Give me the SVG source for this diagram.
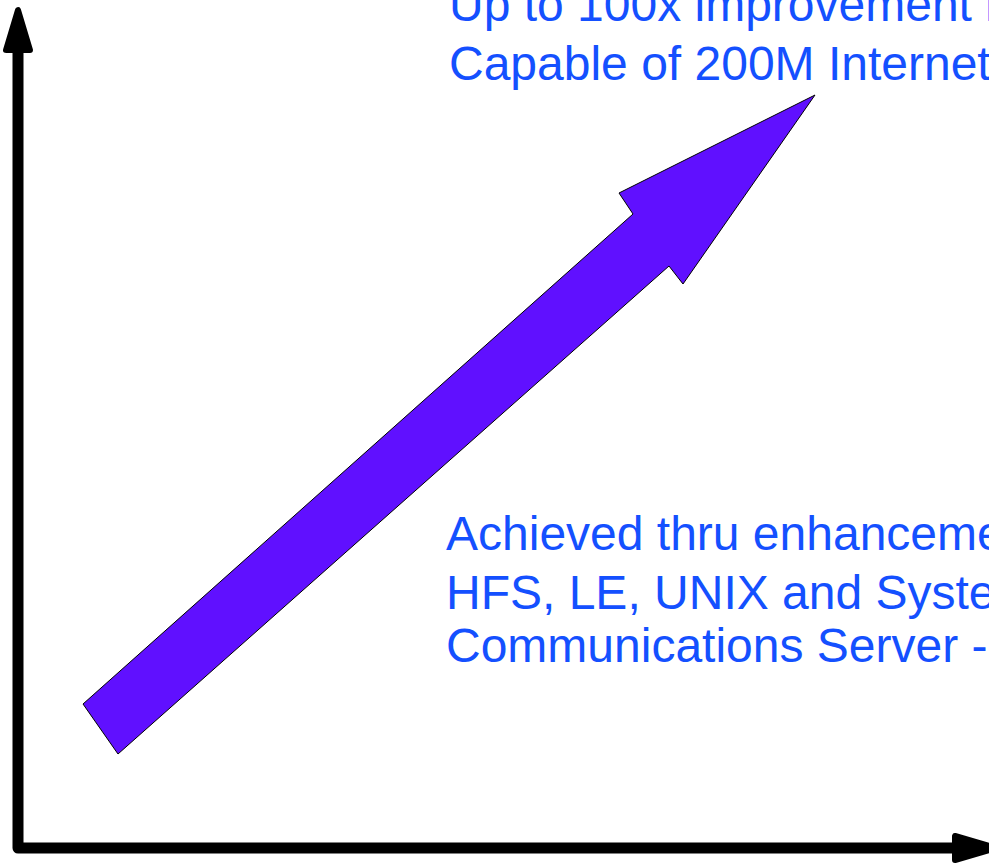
<svg xmlns="http://www.w3.org/2000/svg" width="989" height="863" viewBox="0 0 989 863">
<style>
.axis{stroke:#000;stroke-width:11;fill:none;stroke-linecap:round;stroke-linejoin:round}
.head{fill:#000;stroke:#000;stroke-width:6;stroke-linejoin:round}
.lbl{font-family:"Liberation Sans",Arial,sans-serif;font-size:48px;fill:#1450FF}
</style>
<rect width="989" height="863" fill="#fff"/>
<g id="connectors">
<polyline class="axis" points="18,45 18,848 960,848"/>
<polygon class="head" points="18,10 6,50 30,50"/>
<polygon class="head" points="996,848 955,836 955,860"/>
</g>
<g id="growth-arrow">
<polygon points="83,704 633,214 619,193 815,95 683,284 669,266 118,754" fill="#6010FF" stroke="#000" stroke-width="1"/>
</g>
<g id="top-label">
<text class="lbl" x="449" y="21">Up to 100x improvement in</text>
<text class="lbl" x="449" y="80">Capable of 200M Internet</text>
</g>
<g id="bottom-label">
<text class="lbl" x="446" y="550">Achieved thru enhanceme</text>
<text class="lbl" x="446" y="609">HFS, LE, UNIX and Syste</text>
<text class="lbl" x="446" y="662">Communications Server -</text>
</g>
</svg>
